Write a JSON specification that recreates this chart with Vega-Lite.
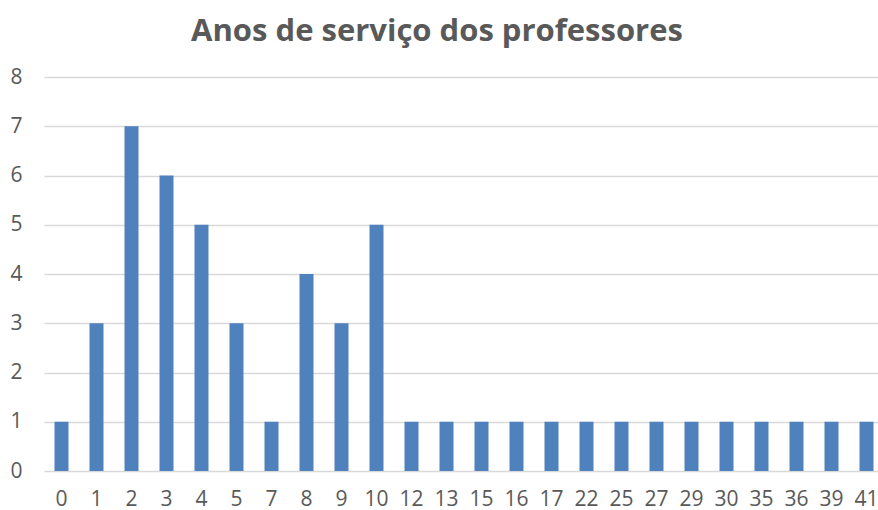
{
  "$schema": "https://vega.github.io/schema/vega-lite/v6.json",
  "autosize": "none",
  "padding": {"left": 44, "top": 77, "right": 0, "bottom": 39},
  "width": 840,
  "height": 394,
  "background": "white",
  "title": {
    "text": "Anos de serviço dos professores",
    "font": "Open Sans",
    "fontSize": 31,
    "fontWeight": "bold",
    "color": "#595959",
    "anchor": "middle",
    "dx": -27,
    "offset": 18
  },
  "data": {
    "values": [
      {"anos": "0", "n": 1}, {"anos": "1", "n": 3}, {"anos": "2", "n": 7}, {"anos": "3", "n": 6},
      {"anos": "4", "n": 5}, {"anos": "5", "n": 3}, {"anos": "7", "n": 1}, {"anos": "8", "n": 4},
      {"anos": "9", "n": 3}, {"anos": "10", "n": 5}, {"anos": "12", "n": 1}, {"anos": "13", "n": 1},
      {"anos": "15", "n": 1}, {"anos": "16", "n": 1}, {"anos": "17", "n": 1}, {"anos": "22", "n": 1},
      {"anos": "25", "n": 1}, {"anos": "27", "n": 1}, {"anos": "29", "n": 1}, {"anos": "30", "n": 1},
      {"anos": "35", "n": 1}, {"anos": "36", "n": 1}, {"anos": "39", "n": 1}, {"anos": "41", "n": 1}
    ]
  },
  "mark": {"type": "bar", "color": "#4F81BD"},
  "encoding": {
    "x": {
      "field": "anos", "type": "ordinal", "sort": null,
      "scale": {"paddingInner": 0.6, "paddingOuter": 0.3},
      "axis": {"title": null, "labelAngle": 0, "domain": false, "ticks": false, "labelFont": "Open Sans", "labelFontSize": 21, "labelColor": "#595959", "labelPadding": 17}
    },
    "y": {
      "field": "n", "type": "quantitative",
      "scale": {"domain": [0, 8]},
      "axis": {"title": null, "values": [0,1,2,3,4,5,6,7,8], "domain": false, "ticks": false, "grid": true, "gridColor": "#D9D9D9", "gridWidth": 1.3, "labelFont": "Open Sans", "labelFontSize": 21, "labelColor": "#595959", "labelPadding": 22}
    }
  },
  "config": {"view": {"stroke": null}}
}
